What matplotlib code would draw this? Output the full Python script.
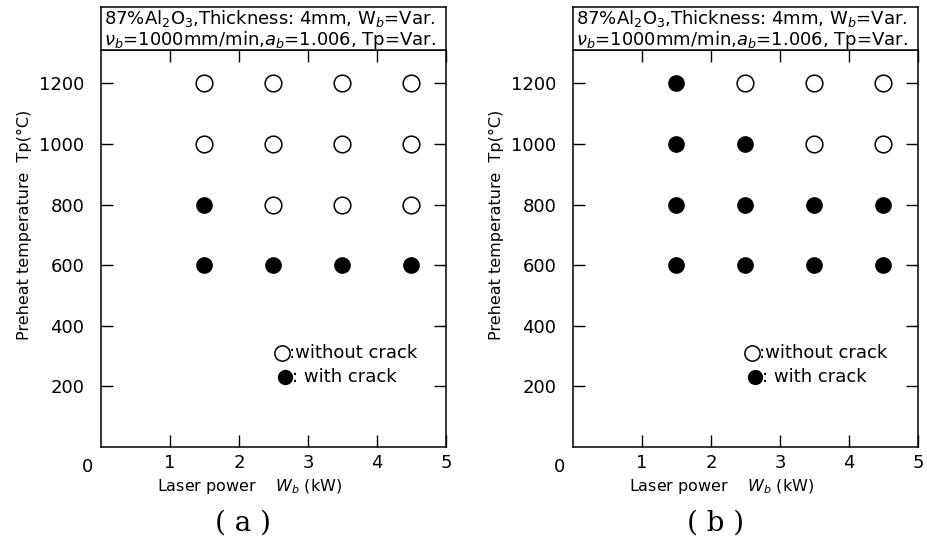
import matplotlib
matplotlib.use("Agg")
from matplotlib import pyplot as plt

# laser power (kW) and preheat temperature (C) grid
powers = [1.5, 2.5, 3.5, 4.5]
temps = [600, 800, 1000, 1200]

# 1 = with crack, 0 = without crack; rows follow temps
crack_a = [[1, 1, 1, 1],
           [1, 0, 0, 0],
           [0, 0, 0, 0],
           [0, 0, 0, 0]]
crack_b = [[1, 1, 1, 1],
           [1, 1, 1, 1],
           [1, 1, 0, 0],
           [1, 0, 0, 0]]

yticks = [200, 400, 600, 800, 1000, 1200]
xticks = [1, 2, 3, 4, 5]
panel_names = ['( a )', '( b )']

line1 = r'87%Al$_2$O$_3$,Thickness: 4mm, W$_b$=Var.'
line2 = r'$\nu_b$=1000mm/min,$a_b$=1.006, Tp=Var.'

W, H = 928, 548
fig = plt.figure(figsize=(W / 100, H / 100), dpi=100)
plt.rcParams['font.family'] = 'DejaVu Sans'


def px(l, r, t, b):
    return [l / W, 1 - b / H, (r - l) / W, (b - t) / H]


def draw_panel(left, right, crack, name, leg_x):
    ax = fig.add_axes(px(left, right, 50, 447))
    for i, t in enumerate(temps):
        for j, p in enumerate(powers):
            if crack[i][j]:
                ax.plot(p, t, 'o', ms=11, mfc='black', mec='black')
            else:
                ax.plot(p, t, 'o', ms=12, mfc='white', mec='black', mew=1.1)
    ax.set_xlim(0, 5)
    ax.set_ylim(0, 1310)
    ax.set_xticks(xticks)
    ax.set_yticks(yticks)
    ax.tick_params(direction='in', length=8.5, width=1, top=True, right=True,
                   labelsize=13)
    ax.tick_params(axis='y', pad=12)
    ax.tick_params(axis='x', pad=5)
    for s in ax.spines.values():
        s.set_linewidth(1.1)
    ax.text(-0.2, -0.027, '0', transform=ax.get_xaxis_transform(),
            ha='center', va='top', fontsize=13)
    ax.set_xlabel('Laser power    $W_b$ (kW)', fontsize=11.5)
    ax.xaxis.set_label_coords(0.43, -0.075)
    ax.set_ylabel('Preheat temperature  Tp(°C)', fontsize=11.5)
    ax.yaxis.set_label_coords(-0.2, 0.56)

    # legend drawn by hand
    ax.plot(leg_x, 310, 'o', ms=11, mfc='white', mec='black', mew=1.1)
    ax.plot(leg_x + 0.05, 231, 'o', ms=10, mfc='black', mec='black')
    ax.text(leg_x + 0.1, 310, ':without crack', va='center', fontsize=13)
    ax.text(leg_x + 0.15, 231, ': with crack', va='center', fontsize=13)

    box = fig.add_axes(px(left, right, 7, 50))
    box.set_xticks([])
    box.set_yticks([])
    for s in box.spines.values():
        s.set_linewidth(1.1)
    box.text(0.01, 0.74, line1, fontsize=13, va='center', ha='left')
    box.text(0.01, 0.24, line2, fontsize=13, va='center', ha='left')

    fig.text(((left + right) / 2 - 30) / W, 1 - 523 / H, name,
             family='DejaVu Serif', fontsize=20, ha='center', va='center')
    return ax


draw_panel(101, 446, crack_a, panel_names[0], 2.62)
draw_panel(573, 918, crack_b, panel_names[1], 2.59)

fig.savefig('out.png', dpi=100, facecolor='white')
